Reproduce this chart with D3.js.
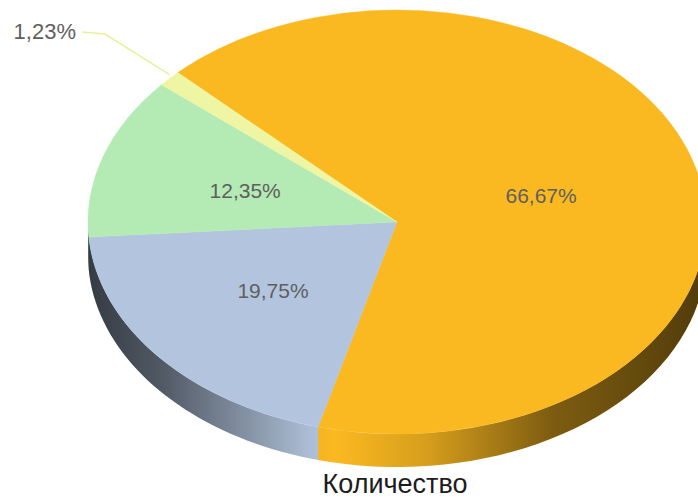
<!DOCTYPE html>
<html>
<head>
<meta charset="utf-8">
<script src="https://d3js.org/d3.v7.min.js"></script>
<style>
  body { margin: 0; background: #fff; }
  .slice-label { font-family: "Liberation Sans", Arial, sans-serif; font-size: 21px; fill: #5f5f5f; }
  .chart-title { font-family: "Liberation Sans", Arial, sans-serif; font-size: 27px; fill: #1c1c1c; }
</style>
</head>
<body>
<div id="chart"></div>
<script>

// Data
var categories = ["A", "B", "C", "D"];
var counts = [54, 16, 10, 1];
var labels = ["66,67%", "19,75%", "12,35%", "1,23%"];
var colors = ["#fbb921", "#b3c5de", "#b4ebb4", "#eef6a4"];
var title = "Количество";

// --> CREATE SVG DRAWING AREA
var width = 698,
    height = 500;

var cx = 397, cy = 222,
    rx = 309, ry = 212,
    depth = 33;

var svg = d3.select("#chart").append("svg")
        .attr("width", width)
        .attr("height", height);

// Side shading, dark on both edges and light near the front
var defs = svg.append("defs");
var grad = defs.append("linearGradient")
        .attr("id", "side-shade")
        .attr("gradientUnits", "userSpaceOnUse")
        .attr("x1", cx - rx).attr("x2", cx + rx)
        .attr("y1", 0).attr("y2", 0);

[[0, 0.7], [0.12, 0.55], [0.36, 0.04], [0.4, 0], [0.55, 0.15], [0.75, 0.5], [1, 0.68]].forEach(function(s) {
  grad.append("stop")
      .attr("offset", s[0])
      .attr("stop-color", "#000")
      .attr("stop-opacity", s[1]);
});

var pie = d3.pie()
    .sort(null)
    .startAngle(-45.2 * Math.PI / 180)
    .endAngle((360 - 45.2) * Math.PI / 180);

var arcs = pie(counts);

function px(a, k) { return cx + rx * (k || 1) * Math.sin(a); }
function py(a, k) { return cy - ry * (k || 1) * Math.cos(a); }

// Path for the visible outer wall between two angles
function sidePath(a0, a1) {
  var steps = 40, pts = [], i, a;
  for (i = 0; i <= steps; i++) {
    a = a0 + (a1 - a0) * i / steps;
    pts.push([px(a), py(a)]);
  }
  for (i = steps; i >= 0; i--) {
    a = a0 + (a1 - a0) * i / steps;
    pts.push([px(a), py(a) + depth]);
  }
  return d3.line()(pts) + "Z";
}

var front0 = Math.PI / 2, front1 = 3 * Math.PI / 2;

var sides = svg.append("g").attr("class", "sides");

arcs.forEach(function(d, i) {
  // check the front half with every 2PI shift
  [-2 * Math.PI, 0, 2 * Math.PI].forEach(function(shift) {
    var s = Math.max(d.startAngle + shift, front0),
        e = Math.min(d.endAngle + shift, front1);
    if (e > s) {
      sides.append("path")
          .attr("d", sidePath(s, e))
          .attr("fill", colors[i]);
      sides.append("path")
          .attr("d", sidePath(s, e))
          .attr("fill", "url(#side-shade)");
    }
  });
});

// Top face: circle arcs squashed into an ellipse
var arc = d3.arc()
    .innerRadius(0)
    .outerRadius(rx);

svg.append("g")
    .attr("transform", "translate(" + cx + "," + cy + ") scale(1," + (ry / rx) + ")")
    .selectAll("path")
    .data(arcs)
    .enter().append("path")
    .attr("d", arc)
    .attr("fill", function(d, i) { return colors[i]; })
    .attr("stroke", function(d, i) { return colors[i]; })
    .attr("stroke-width", 0.5);

// Labels inside the big slices
arcs.forEach(function(d, i) {
  var mid = (d.startAngle + d.endAngle) / 2;
  if (i < 3) {
    svg.append("text")
        .attr("class", "slice-label")
        .attr("x", px(mid, 0.5) - 5)
        .attr("y", py(mid, 0.5) + 3)
        .attr("text-anchor", "middle")
        .attr("dominant-baseline", "middle")
        .text(labels[i]);
  } else {
    // small slice gets a leader line and outside label
    var p0 = [px(mid, 1.0), py(mid, 1.0) - 4];
    var p1 = [105, 34];
    var p2 = [82, 32];
    svg.append("path")
        .attr("d", d3.line()([p0, p1, p2]))
        .attr("fill", "none")
        .attr("stroke", "#e8f29a")
        .attr("stroke-width", 1.5);
    svg.append("text")
        .attr("class", "slice-label")
        .style("font-size", "22px")
        .attr("x", p2[0] - 6)
        .attr("y", 33)
        .attr("text-anchor", "end")
        .attr("dominant-baseline", "middle")
        .text(labels[i]);
  }
});

// Title under the pie
svg.append("text")
    .attr("class", "chart-title")
    .attr("x", 395)
    .attr("y", 493)
    .attr("text-anchor", "middle")
    .text(title);

</script>
</body>
</html>
